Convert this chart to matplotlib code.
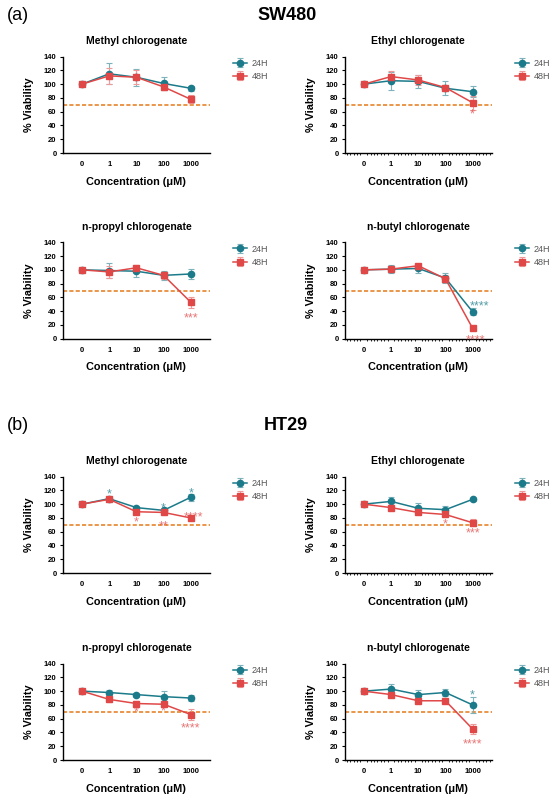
import numpy as np
import matplotlib.pyplot as plt
from matplotlib.ticker import AutoMinorLocator

plt.rcParams['font.family'] = ['Liberation Sans', 'DejaVu Sans']

# 浓度标签
conc = ['0', '1', '10', '100', '1000']
x = np.arange(len(conc))

titles = ['Methyl chlorogenate', 'Ethyl chlorogenate',
          'n-propyl chlorogenate', 'n-butyl chlorogenate']

# SW480 数据 (24H / 48H 均值与误差)
sw_24 = [[100, 115, 110, 101, 94], [100, 105, 104, 94, 89],
         [100, 99, 98, 92, 94], [100, 101, 102, 88, 39]]
sw_24_err = [[1, 15, 12, 10, 4], [1, 13, 9, 10, 8],
             [1, 11, 8, 7, 7], [1, 6, 6, 7, 5]]
sw_48 = [[100, 112, 110, 96, 78], [100, 111, 106, 95, 73],
         [100, 97, 103, 92, 53], [100, 101, 106, 87, 15]]
sw_48_err = [[1, 12, 10, 4, 6], [1, 8, 7, 3, 10],
             [1, 9, 4, 5, 8], [1, 3, 2, 5, 3]]

# HT29 数据
ht_24 = [[100, 108, 95, 91, 110], [100, 104, 94, 92, 107],
         [100, 98, 95, 92, 90], [100, 103, 95, 98, 80]]
ht_24_err = [[1, 2, 2, 2, 5], [1, 7, 7, 5, 2],
             [1, 3, 3, 8, 5], [1, 7, 6, 5, 12]]
ht_48 = [[100, 107, 89, 88, 80], [100, 95, 88, 85, 73],
         [100, 88, 82, 81, 66], [100, 95, 86, 86, 45]]
ht_48_err = [[1, 2, 2, 2, 2], [1, 1, 1, 2, 5],
             [1, 4, 3, 3, 8], [1, 2, 2, 2, 7]]

# 显著性标记: (x位置, y位置, 文本, 序列)
sw_stars = [[], [(4, 60, '*', '48H')],
            [(4, 34, '***', '48H')],
            [(4.25, 51, '****', '24H'), (4.1, 1, '****', '48H')]]
ht_stars = [[(1, 118, '*', '24H'), (3, 98, '*', '24H'), (4, 120, '*', '24H'),
             (2, 77, '*', '48H'), (3, 72, '**', '48H'), (4.1, 85, '****', '48H')],
            [(3, 74, '*', '48H'), (4, 61, '***', '48H')],
            [(2, 73, '*', '48H'), (3, 75, '*', '48H'), (4, 50, '****', '48H')],
            [(4, 98, '*', '24H'), (4, 26, '****', '48H')]]

teal = '#1b7b8a'
red = '#e04848'
orange = '#e8842c'
colors = {'24H': teal, '48H': red}

fig = plt.figure(figsize=(5.5, 7.97), dpi=100)

lefts = [0.1145, 0.627]
bottoms = [0.808, 0.575, 0.281, 0.0464]
w, h = 0.267, 0.121


def draw(ax, title, m24, e24, m48, e48, stars, minor):
    ax.errorbar(x, m24, yerr=e24, color=teal, marker='o', ms=4.5, lw=1.1,
                ecolor='#7fb3bb', elinewidth=0.8, capsize=2, capthick=0.8,
                label='24H', zorder=3)
    ax.errorbar(x, m48, yerr=e48, color=red, marker='s', ms=4.5, lw=1.1,
                ecolor='#ee9a9a', elinewidth=0.8, capsize=2, capthick=0.8,
                label='48H', zorder=3)
    ax.axhline(70, color=orange, ls=(0, (2.5, 1.3)), lw=1.2, zorder=2)
    for sx, sy, s, k in stars:
        ax.text(sx, sy - 4, s, color=colors[k], ha='center', va='center',
                fontsize=9, alpha=0.75)
    ax.set_xlim(-0.7, 4.7)
    ax.set_ylim(0, 140)
    ax.set_yticks(range(0, 141, 20))
    ax.set_xticks(x)
    ax.set_xticklabels(conc)
    if minor:
        ax.xaxis.set_minor_locator(AutoMinorLocator(8))
        ax.tick_params(axis='x', which='minor', length=1.5, width=0.6)
    ax.tick_params(axis='both', labelsize=5.5, length=2.5, width=0.8, pad=2)
    ax.tick_params(axis='x', length=0, pad=6)
    for lab in ax.get_xticklabels() + ax.get_yticklabels():
        lab.set_fontweight('bold')
    for sp in ['top', 'right']:
        ax.spines[sp].set_visible(False)
    for sp in ['left', 'bottom']:
        ax.spines[sp].set_linewidth(1.0)
    ax.set_title(title, fontsize=7.5, fontweight='bold', pad=9)
    ax.set_ylabel('% Viability', fontsize=7.8, fontweight='bold', labelpad=7)
    ax.set_xlabel('Concentration (\u03bcM)', fontsize=7.8, fontweight='bold',
                  labelpad=6)
    leg = ax.legend(loc='upper left', bbox_to_anchor=(1.1, 1.06), frameon=False,
                    fontsize=6.5, handlelength=1.6, handletextpad=0.5,
                    labelspacing=0.45)
    for t in leg.get_texts():
        t.set_color('#555555')


for i in range(4):
    r, c = divmod(i, 2)
    ax = fig.add_axes([lefts[c], bottoms[r], w, h])
    draw(ax, titles[i], sw_24[i], sw_24_err[i], sw_48[i], sw_48_err[i],
         sw_stars[i], c == 1)
    ax = fig.add_axes([lefts[c], bottoms[r + 2], w, h])
    draw(ax, titles[i], ht_24[i], ht_24_err[i], ht_48[i], ht_48_err[i],
         ht_stars[i], c == 1)

fig.text(0.012, 0.981, '(a)', fontsize=13, va='center')
fig.text(0.522, 0.981, 'SW480', fontsize=13, fontweight='bold', ha='center', va='center')
fig.text(0.012, 0.466, '(b)', fontsize=13, va='center')
fig.text(0.52, 0.466, 'HT29', fontsize=13, fontweight='bold', ha='center', va='center')

fig.savefig('out.png', dpi=100)
